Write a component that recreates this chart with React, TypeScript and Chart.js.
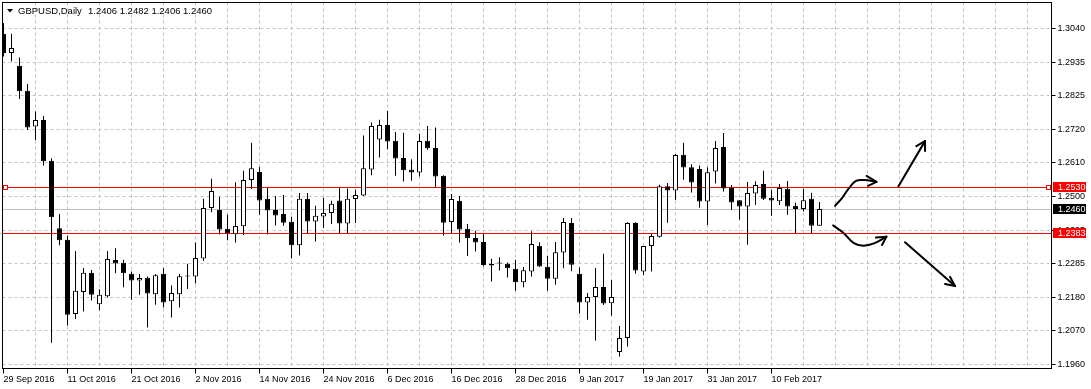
import React, { useEffect, useRef } from "react";
import { Chart, registerables } from "chart.js";

Chart.register(...registerables);

// ---- Categories: trading days (one candle per day) ----
const sep2016 = [29, 30];
const oct2016 = [3, 4, 5, 6, 7, 10, 11, 12, 13, 14, 17, 18, 19, 20, 21, 24, 25, 26, 27, 28, 31];
const nov2016 = [1, 2, 3, 4, 7, 8, 9, 10, 11, 14, 15, 16, 17, 18, 21, 22, 23, 24, 25, 28, 29, 30];
const dec2016 = [1, 2, 5, 6, 7, 8, 9, 12, 13, 14, 15, 16, 19, 20, 21, 22, 23, 26, 27, 28, 29, 30];
const jan2017 = [2, 3, 4, 5, 6, 9, 10, 11, 12, 13, 16, 17, 18, 19, 20, 23, 24, 25, 26, 27, 30, 31];
const feb2017 = [1, 2, 3, 6, 7, 8, 9, 10, 13, 14, 15, 16, 17, 20];

const dates: string[] = [
  ...sep2016.map((d) => `${d} Sep 2016`),
  ...oct2016.map((d) => `${d} Oct 2016`),
  ...nov2016.map((d) => `${d} Nov 2016`),
  ...dec2016.map((d) => `${d} Dec 2016`),
  ...jan2017.map((d) => `${d} Jan 2017`),
  ...feb2017.map((d) => `${d} Feb 2017`),
];

// ---- Series: daily OHLC ----
const open = [
  1.3023, 1.2961, 1.2920, 1.2840, 1.2725, 1.2746, 1.2615, 1.2398, 1.2361, 1.2122,
  1.2193, 1.2255, 1.2154, 1.2179, 1.2296, 1.2287, 1.2252, 1.2230, 1.2239, 1.2186,
  1.2252, 1.2163, 1.2186, 1.2243, 1.2243, 1.2301, 1.2463, 1.2457, 1.2396, 1.2379,
  1.2404, 1.2553, 1.2579, 1.2493, 1.2457, 1.2444, 1.2419, 1.2343, 1.2493, 1.2420,
  1.2436, 1.2447, 1.2487, 1.2413, 1.2492, 1.2503, 1.2587, 1.2683, 1.2730, 1.2679,
  1.2624, 1.2586, 1.2577, 1.2679, 1.2656, 1.2567, 1.2418, 1.2486, 1.2396, 1.2367,
  1.2354, 1.2284, 1.2285, 1.2284, 1.2268, 1.2224, 1.2259, 1.2342, 1.2274, 1.2236,
  1.2320, 1.2415, 1.2252, 1.2159, 1.2177, 1.2209, 1.2157, 1.2000, 1.2045, 1.2415,
  1.2259, 1.2341, 1.2371, 1.2533, 1.2519, 1.2634, 1.2594, 1.2588, 1.2484, 1.2580,
  1.2659, 1.2528, 1.2488, 1.2468, 1.2510, 1.2540, 1.2496, 1.2485, 1.2525, 1.2470,
  1.2460, 1.2493, 1.2406,
];
const high = [
  1.3058, 1.3023, 1.2947, 1.2862, 1.2773, 1.2759, 1.2623, 1.2444, 1.2375, 1.2325,
  1.2270, 1.2264, 1.2202, 1.2325, 1.2334, 1.2297, 1.2259, 1.2251, 1.2243, 1.2251,
  1.2270, 1.2214, 1.2251, 1.2284, 1.2352, 1.2493, 1.2557, 1.2499, 1.2441, 1.2546,
  1.2583, 1.2673, 1.2595, 1.2528, 1.2502, 1.2505, 1.2435, 1.2511, 1.2511, 1.2470,
  1.2496, 1.2486, 1.2529, 1.2526, 1.2522, 1.2696, 1.2738, 1.2747, 1.2775, 1.2707,
  1.2705, 1.2620, 1.2702, 1.2727, 1.2722, 1.2568, 1.2508, 1.2502, 1.2412, 1.2390,
  1.2381, 1.2300, 1.2305, 1.2288, 1.2297, 1.2273, 1.2388, 1.2353, 1.2309, 1.2354,
  1.2431, 1.2431, 1.2272, 1.2190, 1.2270, 1.2316, 1.2232, 1.2084, 1.2417, 1.2417,
  1.2342, 1.2380, 1.2538, 1.2543, 1.2637, 1.2673, 1.2604, 1.2600, 1.2594, 1.2678,
  1.2704, 1.2537, 1.2489, 1.2547, 1.2549, 1.2583, 1.2522, 1.2540, 1.2550, 1.2480,
  1.2525, 1.2512, 1.2482,
];
const low = [
  1.2950, 1.2934, 1.2813, 1.2714, 1.2682, 1.2600, 1.2030, 1.2343, 1.2085, 1.2106,
  1.2130, 1.2166, 1.2134, 1.2175, 1.2253, 1.2208, 1.2168, 1.2184, 1.2079, 1.2152,
  1.2143, 1.2111, 1.2143, 1.2203, 1.2220, 1.2293, 1.2449, 1.2378, 1.2359, 1.2352,
  1.2376, 1.2524, 1.2441, 1.2378, 1.2407, 1.2406, 1.2301, 1.2310, 1.2382, 1.2355,
  1.2399, 1.2412, 1.2382, 1.2382, 1.2415, 1.2502, 1.2568, 1.2625, 1.2652, 1.2567,
  1.2548, 1.2551, 1.2564, 1.2650, 1.2530, 1.2375, 1.2382, 1.2352, 1.2309, 1.2323,
  1.2275, 1.2227, 1.2262, 1.2240, 1.2197, 1.2208, 1.2243, 1.2273, 1.2197, 1.2216,
  1.2269, 1.2260, 1.2124, 1.2104, 1.2037, 1.2151, 1.2117, 1.1986, 1.2018, 1.2252,
  1.2248, 1.2259, 1.2368, 1.2416, 1.2489, 1.2554, 1.2513, 1.2464, 1.2408, 1.2542,
  1.2516, 1.2457, 1.2425, 1.2345, 1.2473, 1.2489, 1.2438, 1.2473, 1.2441, 1.2382,
  1.2452, 1.2382, 1.2406,
];
const close = [
  1.2961, 1.2977, 1.2838, 1.2722, 1.2746, 1.2613, 1.2433, 1.2359, 1.2120, 1.2197,
  1.2255, 1.2184, 1.2184, 1.2299, 1.2285, 1.2253, 1.2230, 1.2238, 1.2188, 1.2247,
  1.2159, 1.2190, 1.2244, 1.2245, 1.2302, 1.2463, 1.2518, 1.2394, 1.2382, 1.2405,
  1.2553, 1.2591, 1.2487, 1.2455, 1.2439, 1.2416, 1.2343, 1.2493, 1.2420, 1.2438,
  1.2447, 1.2477, 1.2413, 1.2493, 1.2505, 1.2591, 1.2727, 1.2730, 1.2677, 1.2622,
  1.2584, 1.2577, 1.2678, 1.2655, 1.2564, 1.2416, 1.2492, 1.2394, 1.2366, 1.2352,
  1.2280, 1.2278, 1.2287, 1.2269, 1.2224, 1.2263, 1.2347, 1.2275, 1.2236, 1.2321,
  1.2418, 1.2281, 1.2159, 1.2177, 1.2209, 1.2156, 1.2177, 1.2045, 1.2415, 1.2262,
  1.2341, 1.2373, 1.2533, 1.2519, 1.2633, 1.2593, 1.2545, 1.2484, 1.2578, 1.2656,
  1.2526, 1.2481, 1.2468, 1.2511, 1.2537, 1.2493, 1.2487, 1.2527, 1.2468, 1.2460,
  1.2488, 1.2406, 1.2460,
];

// ---- Axis tick values and labels (price scale) ----
const yTickValues = [1.196, 1.2068, 1.2176, 1.2284, 1.2392, 1.25, 1.2608, 1.2716, 1.2824, 1.2932, 1.304];
const yTickLabels = ["1.1960", "1.2070", "1.2180", "1.2285", "1.2395", "1.2500", "1.2610", "1.2720", "1.2825", "1.2935", "1.3040"];
const Y_MIN = 1.194714;
const Y_MAX = 1.312357;
const X_MIN = -0.125;
const X_MAX = 131;
const xGridStep = 4;
const xLabelStep = 8;

// ---- Horizontal levels ----
const resistanceLevel = 1.253;
const supportLevel = 1.2383;
const lastPrice = 1.246;

// ---- Hand-drawn scenario arrows (bar index, price) ----
const arrowUpCurve = [
  { x: 103.94, y: 1.247 },
  { x: 104.81, y: 1.2495 },
  { x: 105.69, y: 1.2527 },
  { x: 106.56, y: 1.255 },
  { x: 107.56, y: 1.2553 },
  { x: 109.13, y: 1.2547 },
];
const arrowUpCurveHead = [
  { x: 107.88, y: 1.2566 },
  { x: 109.13, y: 1.2547 },
  { x: 108.06, y: 1.2534 },
];
const arrowUpLine = [
  { x: 111.85, y: 1.2532 },
  { x: 115.19, y: 1.2678 },
];
const arrowUpLineHead = [
  { x: 114.1, y: 1.2662 },
  { x: 115.19, y: 1.2678 },
  { x: 115.19, y: 1.2646 },
];
const arrowDownCurve = [
  { x: 103.7, y: 1.2407 },
  { x: 105.0, y: 1.2383 },
  { x: 106.3, y: 1.235 },
  { x: 107.5, y: 1.2342 },
  { x: 108.9, y: 1.235 },
  { x: 110.38, y: 1.2371 },
];
const arrowDownCurveHead = [
  { x: 109.06, y: 1.2368 },
  { x: 110.38, y: 1.2371 },
  { x: 109.81, y: 1.2344 },
];
const arrowDownLine = [
  { x: 112.69, y: 1.2353 },
  { x: 118.94, y: 1.2212 },
];
const arrowDownLineHead = [
  { x: 118.31, y: 1.2242 },
  { x: 118.94, y: 1.2212 },
  { x: 117.69, y: 1.2219 },
];

const symbolTitle = "GBPUSD,Daily";
const FONT = "'Liberation Sans', Arial, sans-serif";

const arrowDataset = (data: { x: number; y: number }[], tension: number) => ({
  type: "line" as const,
  data,
  borderColor: "#000000",
  borderWidth: 2,
  pointRadius: 0,
  tension,
  fill: false,
  borderCapStyle: "round" as const,
  borderJoinStyle: "round" as const,
  order: 0,
});

const overlayPlugin = {
  id: "mt4Overlay",
  beforeDatasetsDraw(chart: any) {
    const { ctx, chartArea, scales } = chart;
    const y = scales.y;
    const lines = [
      { v: lastPrice, color: "#c0c0c0" },
      { v: resistanceLevel, color: "#ff0000" },
      { v: supportLevel, color: "#ff0000" },
    ];
    ctx.save();
    ctx.lineWidth = 1;
    ctx.setLineDash([]);
    for (const l of lines) {
      const py = Math.round(y.getPixelForValue(l.v)) + 0.5;
      ctx.strokeStyle = l.color;
      ctx.beginPath();
      ctx.moveTo(chartArea.left, py);
      ctx.lineTo(chartArea.right, py);
      ctx.stroke();
    }
    ctx.restore();
  },
  afterDatasetsDraw(chart: any) {
    const { ctx, chartArea, scales } = chart;
    const y = scales.y;
    ctx.save();
    ctx.setLineDash([]);
    // frame
    ctx.strokeStyle = "#000000";
    ctx.lineWidth = 1;
    ctx.strokeRect(chartArea.left, chartArea.top, chartArea.right - chartArea.left, chartArea.bottom - chartArea.top);
    // anchor squares of the resistance line
    const ry = Math.round(y.getPixelForValue(resistanceLevel)) + 0.5;
    ctx.fillStyle = "#ffffff";
    ctx.strokeStyle = "#ff0000";
    ctx.fillRect(chartArea.left + 1, ry - 2, 4, 4);
    ctx.strokeRect(chartArea.left + 1, ry - 2, 4, 4);
    ctx.fillRect(chartArea.right - 5, ry - 2, 4, 4);
    ctx.strokeRect(chartArea.right - 5, ry - 2, 4, 4);
    ctx.restore();
  },
  afterDraw(chart: any) {
    const { ctx, chartArea, scales } = chart;
    const y = scales.y;
    ctx.save();
    // price labels on the right scale
    const boxes = [
      { v: resistanceLevel, bg: "#ff0000" },
      { v: lastPrice, bg: "#000000" },
      { v: supportLevel, bg: "#ff0000" },
    ];
    ctx.font = `9px ${FONT}`;
    ctx.textBaseline = "middle";
    ctx.textAlign = "left";
    for (const b of boxes) {
      const py = Math.round(y.getPixelForValue(b.v)) + 0.5;
      ctx.fillStyle = b.bg;
      ctx.fillRect(chartArea.right + 1.5, Math.round(py - 5.5), 33, 10);
      ctx.fillStyle = "#ffffff";
      ctx.fillText(b.v.toFixed(4), chartArea.right + 6.5, py);
    }
    // title
    const n = open.length - 1;
    ctx.fillStyle = "#000000";
    ctx.beginPath();
    ctx.moveTo(7, 9);
    ctx.lineTo(13, 9);
    ctx.lineTo(10, 12.5);
    ctx.closePath();
    ctx.fill();
    ctx.font = `9.5px ${FONT}`;
    ctx.fillText(symbolTitle, 18, 11);
    ctx.fillText(
      `${open[n].toFixed(4)} ${high[n].toFixed(4)} ${low[n].toFixed(4)} ${close[n].toFixed(4)}`,
      88,
      11
    );
    ctx.restore();
  },
};

export default function App() {
  const ref = useRef<HTMLCanvasElement>(null);

  useEffect(() => {
    document.body.style.margin = "0";
    const canvas = ref.current;
    if (!canvas) return;

    const bodies = open.map((o, i) => ({ x: i, y: [Math.min(o, close[i]), Math.max(o, close[i])] }));
    const wicks = low.map((l, i) => ({ x: i, y: [l, high[i]] }));
    const bodyColors = open.map((o, i) => (close[i] >= o ? "#ffffff" : "#000000"));

    const xTicks: number[] = [];
    for (let v = 0; v <= X_MAX; v += xGridStep) xTicks.push(v);

    const chart = new Chart(canvas, {
      type: "bar",
      data: {
        datasets: [
          {
            type: "bar",
            label: "body",
            data: bodies as any,
            backgroundColor: bodyColors,
            borderColor: "#000000",
            borderWidth: 1,
            borderSkipped: false,
            grouped: false,
            maxBarThickness: 5,
            minBarLength: 1,
            inflateAmount: 0,
            order: 1,
          } as any,
          {
            type: "bar",
            label: "wick",
            data: wicks as any,
            backgroundColor: "#000000",
            borderWidth: 0,
            grouped: false,
            maxBarThickness: 1,
            inflateAmount: 0,
            order: 2,
          } as any,
          arrowDataset(arrowUpCurve, 0.4),
          arrowDataset(arrowUpCurveHead, 0),
          arrowDataset(arrowUpLine, 0),
          arrowDataset(arrowUpLineHead, 0),
          arrowDataset(arrowDownCurve, 0.4),
          arrowDataset(arrowDownCurveHead, 0),
          arrowDataset(arrowDownLine, 0),
          arrowDataset(arrowDownLineHead, 0),
        ] as any,
      },
      options: {
        responsive: false,
        animation: false,
        events: [],
        layout: { padding: { left: 2.5, top: 2.5, right: 0, bottom: 0 } },
        plugins: {
          legend: { display: false },
          tooltip: { enabled: false },
          title: { display: false },
        },
        scales: {
          x: {
            type: "linear",
            min: X_MIN,
            max: X_MAX,
            offset: false,
            afterBuildTicks: (scale: any) => {
              scale.ticks = xTicks.map((v) => ({ value: v }));
            },
            afterFit: (scale: any) => {
              scale.height = 20.5;
              scale.paddingLeft = 0;
              scale.paddingRight = 0;
              scale.paddingTop = 0;
              scale.paddingBottom = 0;
            },
            grid: {
              offset: false,
              color: (ctx: any) => (ctx.tick && ctx.tick.value === 0 ? "rgba(0,0,0,0)" : "#c0c0c0"),
              tickColor: (ctx: any) =>
                ctx.tick && ctx.tick.value % xLabelStep === 0 && ctx.tick.value < dates.length
                  ? "#000000"
                  : "rgba(0,0,0,0)",
              tickLength: 5,
              tickWidth: 1,
              tickBorderDash: [],
            },
            border: { display: true, color: "#000000", dash: [3, 3] },
            ticks: {
              autoSkip: false,
              maxRotation: 0,
              minRotation: 0,
              align: "start",
              padding: 1,
              color: "#000000",
              font: { family: FONT, size: 9 },
              callback: (value: any) => {
                const v = Number(value);
                return v % xLabelStep === 0 && v < dates.length ? dates[v] : "";
              },
            },
          } as any,
          y: {
            type: "linear",
            position: "right",
            min: Y_MIN,
            max: Y_MAX,
            afterBuildTicks: (scale: any) => {
              scale.ticks = yTickValues.map((v) => ({ value: v }));
            },
            afterFit: (scale: any) => {
              scale.width = 39.5;
              scale.paddingLeft = 0;
              scale.paddingRight = 0;
              scale.paddingTop = 0;
              scale.paddingBottom = 0;
            },
            grid: {
              color: "#c0c0c0",
              tickColor: "#000000",
              tickLength: 4,
              tickWidth: 1,
              tickBorderDash: [],
            },
            border: { display: true, color: "#000000", dash: [3, 3] },
            ticks: {
              padding: 2,
              color: "#000000",
              font: { family: FONT, size: 9 },
              callback: (_value: any, index: number) => yTickLabels[index],
            },
          } as any,
        },
      },
      plugins: [overlayPlugin],
    });

    return () => chart.destroy();
  }, []);

  return (
    <canvas
      ref={ref}
      width={1091}
      height={389}
      style={{ display: "block", width: 1091, height: 389 }}
    />
  );
}
